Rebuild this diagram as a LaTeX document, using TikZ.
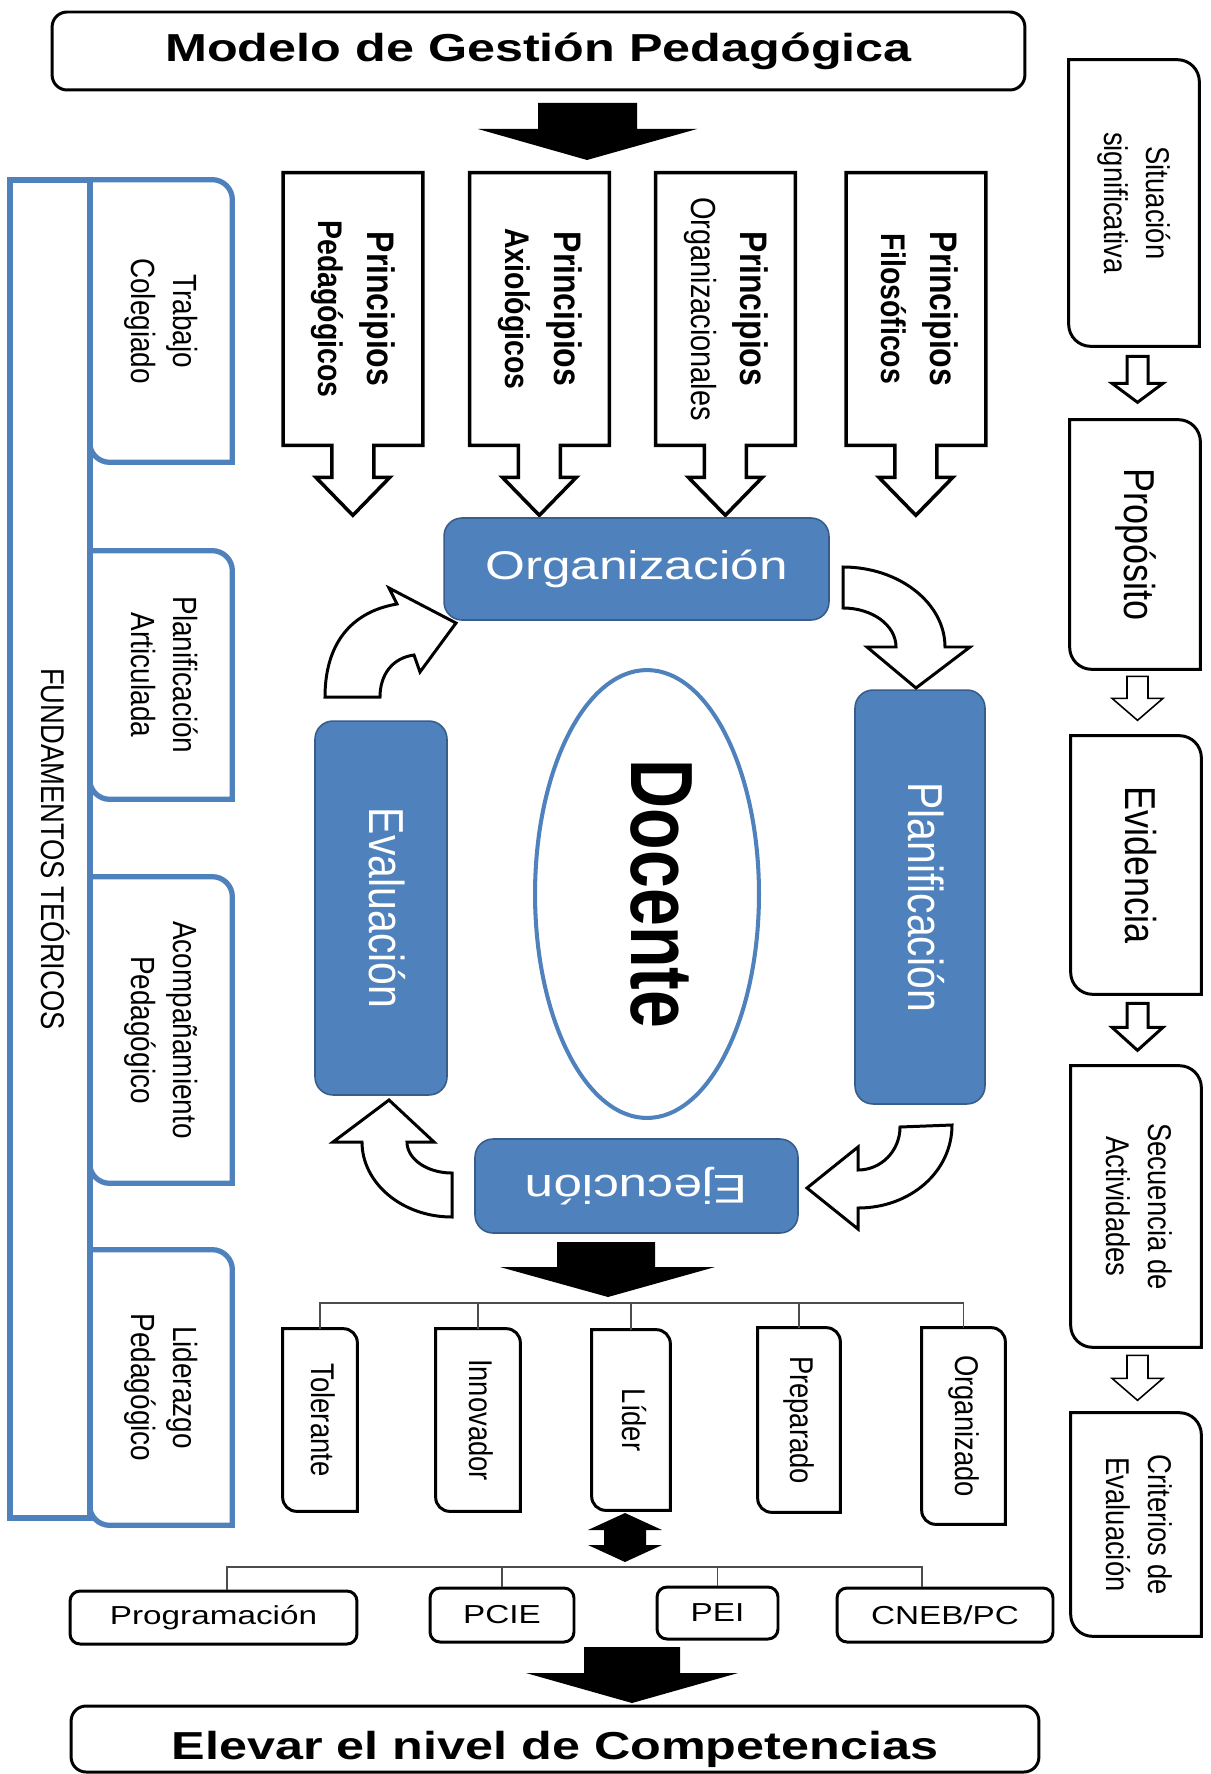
\documentclass[tikz,border=0pt]{standalone}
\usepackage{fontspec}
\setmainfont{Liberation Sans}
\usepackage{graphicx}
\usetikzlibrary{calc,shapes.geometric}

\definecolor{officeblue}{HTML}{4F81BD}
\definecolor{officedark}{HTML}{385D8A}

% text helpers: horizontal stretch, and text turned to read downwards
\newcommand{\htxt}[1]{\scalebox{1.28}[1]{#1}}
\newcommand{\vtxt}[2][1.2]{\scalebox{#1}[1]{\rotatebox{-90}{\begin{tabular}{@{}c@{}}#2\end{tabular}}}}
% frame with rounded top-right and bottom-left corners
\newcommand{\diagframe}[3][]{\draw[#1] (#2.north west) -- ($(#2.north east)+(-#3,0)$) arc[start angle=-90, end angle=0, radius=#3] -- (#2.south east) -- ($(#2.south west)+(#3,0)$) arc[start angle=90, end angle=180, radius=#3] -- cycle;}

\begin{document}
\begin{tikzpicture}[x=0.02cm, y=-0.02cm,
    roundnode/.style={draw, line width=1.7pt, rounded corners=0.3cm, inner sep=0pt},
    princnode/.style={minimum width=2.78cm, minimum height=5.44cm, inner sep=0pt, font=\fontsize{18.2}{23.3}\selectfont\bfseries},
    calloutline/.style={draw, line width=2pt},
    tabnode/.style={minimum width=2.84cm, inner sep=0pt, font=\fontsize{15.9}{19.9}\selectfont},
    tabline/.style={draw=officeblue, line width=3pt},
    stepnode/.style={minimum width=2.6cm, inner sep=0pt, font=\fontsize{15.6}{19.9}\selectfont},
    stepline/.style={draw, line width=1.7pt},
    bluenode/.style={draw=officedark, line width=0.9pt, fill=officeblue, rounded corners=0.36cm, text=white, inner sep=0pt},
    docnode/.style={ellipse, draw=officeblue, line width=2.3pt, fill=white, minimum width=4.48cm, minimum height=8.96cm, inner sep=0pt, font=\fontsize{38.7}{46}\selectfont\bfseries},
    traitnode/.style={minimum height=3.64cm, inner sep=0pt, font=\fontsize{15.6}{19.9}\selectfont},
    botnode/.style={draw, line width=1.7pt, rounded corners=0.2cm, inner sep=0pt, font=\fontsize{14.8}{18}\selectfont},
    bendarrow/.style={draw, fill=white, line width=1.7pt},
    hollowthick/.style={draw, fill=white, line width=1.7pt},
    hollowthin/.style={draw, fill=white, line width=0.9pt},
    treeline/.style={draw=black!70, line width=0.8pt}]

\useasboundingbox (0,0) rectangle (1210,1774);

% titles
\node[roundnode, minimum width=19.46cm, minimum height=1.56cm, font=\fontsize{22.2}{26}\selectfont\bfseries] (title) at (538.5,51) {\scalebox{1.29}[1]{Modelo de Gestión Pedagógica}};
\node[roundnode, minimum width=19.36cm, minimum height=1.32cm] (goal) at (555,1739) {};
\node[font=\fontsize{22.2}{26}\selectfont\bfseries] (goaltext) at (555,1749) {\scalebox{1.29}[1]{Elevar el nivel de Competencias}};

\fill (538,103) -- (637,103) -- (637,129) -- (697,129) -- (587,160) -- (478,129) -- (538,129) -- cycle;

% principios
\node[princnode] (pped) at (353,309) {\vtxt{Principios\\{\fontsize{16.2}{23.3}\selectfont Pedagógicos}}};
\node[princnode] (paxi) at (539.5,309) {\vtxt{Principios\\{\fontsize{16.2}{23.3}\selectfont Axiológicos}}};
\node[princnode] (porg) at (725.5,309) {\vtxt{Principios\\{\fontsize{16.5}{23.3}\selectfont\mdseries Organizacionales}}};
\node[princnode] (pfil) at (916,309) {\vtxt{Principios\\{\fontsize{16.2}{23.3}\selectfont Filosóficos}}};
\draw[calloutline] (pped.south west) -- (pped.north west) -- (pped.north east) -- (pped.south east) -- ++(-49,0) -- ++(0,32) -- ++(16,0) -- ++(-37,38) -- ++(-37,-38) -- ++(16,0) -- ++(0,-32) -- cycle;
\draw[calloutline] (paxi.south west) -- (paxi.north west) -- (paxi.north east) -- (paxi.south east) -- ++(-49,0) -- ++(0,32) -- ++(16,0) -- ++(-37,38) -- ++(-37,-38) -- ++(16,0) -- ++(0,-32) -- cycle;
\draw[calloutline] (porg.south west) -- (porg.north west) -- (porg.north east) -- (porg.south east) -- ++(-49,0) -- ++(0,32) -- ++(16,0) -- ++(-37,38) -- ++(-37,-38) -- ++(16,0) -- ++(0,-32) -- cycle;
\draw[calloutline] (pfil.south west) -- (pfil.north west) -- (pfil.north east) -- (pfil.south east) -- ++(-49,0) -- ++(0,32) -- ++(16,0) -- ++(-37,38) -- ++(-37,-38) -- ++(16,0) -- ++(0,-32) -- cycle;

% fundamentos
\node[draw=officeblue, line width=3pt, minimum width=1.6cm, minimum height=26.76cm, inner sep=0pt, font=\fontsize{15.6}{19.9}\selectfont] (fund) at (50,849) {\vtxt{FUNDAMENTOS TEÓRICOS}};
\node[tabnode, minimum height=5.64cm] (ttra) at (161,321) {\vtxt{Trabajo\\Colegiado}};
\node[tabnode, minimum height=4.96cm] (tpla) at (161,675) {\vtxt{Planificación\\Articulada}};
\node[tabnode, minimum height=6.12cm] (taco) at (161,1030) {\vtxt{Acompañamiento\\Pedagógico}};
\node[tabnode, minimum height=5.5cm] (tlid) at (161,1387.5) {\vtxt{Liderazgo\\Pedagógico}};
\diagframe[tabline]{ttra}{20}
\diagframe[tabline]{tpla}{20}
\diagframe[tabline]{taco}{20}
\diagframe[tabline]{tlid}{20}

% ciclo
\node[bluenode, minimum width=7.7cm, minimum height=2.04cm, font=\fontsize{22.8}{27}\selectfont] (orgz) at (636.5,569) {\htxt{Organización}};
\node[bluenode, minimum width=2.6cm, minimum height=8.28cm, font=\fontsize{23.3}{28}\selectfont] (plan) at (920,897) {\vtxt{Planificación}};
\node[bluenode, minimum width=6.46cm, minimum height=1.88cm, font=\fontsize{22.8}{27}\selectfont] (ejec) at (636.5,1186) {\htxt{\rotatebox{180}{Ejecución}}};
\node[bluenode, minimum width=2.64cm, minimum height=7.48cm, font=\fontsize{23.3}{28}\selectfont] (eval) at (381,908) {\vtxt{Evaluación}};
\node[docnode] (doc) at (647,894) {\hspace*{0.24cm}\vtxt[1.3]{Docente}};

\draw[bendarrow] (843,567) .. controls (899,567) and (945,603) .. (945,647) -- (970,647) -- (916,688) -- (867,647) -- (896,647) .. controls (896,625) and (872,608) .. (843,608) -- cycle;
\draw[bendarrow] (900,1127) -- (952,1125) .. controls (952,1172) and (910,1208) .. (858,1208) -- (858,1229) -- (807,1188) -- (858,1147) -- (858,1170) .. controls (881,1170) and (900,1151) .. (900,1127) -- cycle;
\draw[bendarrow] (452,1173) -- (452,1217) .. controls (402,1217) and (362,1183) .. (362,1142) -- (333,1142) -- (389,1100) -- (434,1142) -- (407,1142) .. controls (407,1159) and (427,1173) .. (452,1173) -- cycle;
\draw[bendarrow] (380,697) -- (325,697) .. controls (325,645) and (350,612) .. (397,604) -- (389,588) -- (456,623) -- (420,672) -- (414,655) .. controls (392,658) and (380,675) .. (380,697) -- cycle;

% perfil
\fill (557,1242) -- (655,1242) -- (655,1267) -- (715,1267) -- (608,1297) -- (500,1267) -- (557,1267) -- cycle;
\coordinate (busA) at (0,1303);
\node[traitnode, minimum width=1.48cm] (tol) at (320,1420) {\vtxt{Tolerante}};
\node[traitnode, minimum width=1.68cm] (inn) at (478,1420) {\vtxt{Innovador}};
\node[traitnode, minimum width=1.56cm, minimum height=3.6cm] (lid) at (631,1420) {\vtxt{Líder}};
\node[traitnode, minimum width=1.64cm, minimum height=3.68cm] (pre) at (799,1420) {\vtxt{Preparado}};
\node[traitnode, minimum width=1.66cm, minimum height=3.92cm] (orgd) at (963.5,1426) {\vtxt{Organizado}};
\diagframe[stepline]{tol}{14}
\diagframe[stepline]{inn}{14}
\diagframe[stepline]{lid}{14}
\diagframe[stepline]{pre}{14}
\diagframe[stepline]{orgd}{14}
\draw[treeline] (tol.north) -- (tol.north |- busA) -- (orgd.north |- busA) -- (orgd.north);
\draw[treeline] (inn.north) -- (inn.north |- busA);
\draw[treeline] (lid.north) -- (lid.north |- busA);
\draw[treeline] (pre.north) -- (pre.north |- busA);

\fill (625,1513) -- (662,1530) -- (646,1530) -- (646,1545) -- (662,1545) -- (625,1562) -- (588,1545) -- (604,1545) -- (604,1530) -- (588,1530) -- cycle;

% documentos
\coordinate (busB) at (0,1567);
\node[botnode, minimum width=5.74cm, minimum height=1.06cm] (prog) at (213.5,1617.5) {\htxt{Programación}};
\node[botnode, minimum width=2.88cm, minimum height=1.08cm] (pcie) at (502,1615) {\htxt{PCIE}};
\node[botnode, minimum width=2.42cm, minimum height=1.04cm] (pei) at (717.5,1613) {\htxt{PEI}};
\node[botnode, minimum width=4.32cm, minimum height=1.08cm] (cneb) at (945,1615) {\htxt{CNEB/PC}};
\draw[treeline] ([xshift=0.27cm]prog.north) -- ([xshift=0.27cm]prog.north |- busB) -- ([xshift=-0.46cm]cneb.north |- busB) -- ([xshift=-0.46cm]cneb.north);
\draw[treeline] (pcie.north) -- (pcie.north |- busB);
\draw[treeline] (pei.north) -- (pei.north |- busB);

\fill (584,1647) -- (680,1647) -- (680,1673) -- (738,1673) -- (632,1703) -- (526,1673) -- (584,1673) -- cycle;

% secuencia
\node[stepnode, minimum height=5.72cm] (sit) at (1134,203) {\vtxt{Situación\\significativa}};
\node[stepnode, minimum height=4.98cm, font=\fontsize{20.5}{25}\selectfont] (prop) at (1135,544.5) {\vtxt{Propósito}};
\node[stepnode, minimum height=5.16cm, font=\fontsize{20.5}{25}\selectfont] (evid) at (1136,865) {\vtxt{Evidencia}};
\node[stepnode, minimum height=5.62cm] (secu) at (1136,1206.5) {\vtxt{Secuencia de\\Actividades}};
\node[stepnode, minimum height=4.46cm] (crit) at (1136,1524.5) {\vtxt{Criterios de\\Evaluación}};
\diagframe[stepline]{sit}{22}
\diagframe[stepline]{prop}{22}
\diagframe[stepline]{evid}{22}
\diagframe[stepline]{secu}{22}
\diagframe[stepline]{crit}{22}
\draw[hollowthick] ($(sit.south)+(-7,10)$) -- ++(21,0) -- ++(0,27) -- ++(15,0) -- ++(-25.5,19) -- ++(-25.5,-19) -- ++(15,0) -- cycle;
\draw[hollowthin] ($(prop.south)+(-8,7)$) -- ++(21,0) -- ++(0,22) -- ++(15,0) -- ++(-25.5,22) -- ++(-25.5,-22) -- ++(15,0) -- cycle;
\draw[hollowthick] ($(evid.south)+(-9,9)$) -- ++(21,0) -- ++(0,24) -- ++(15,0) -- ++(-25.5,23) -- ++(-25.5,-23) -- ++(15,0) -- cycle;
\draw[hollowthin] ($(secu.south)+(-9,8)$) -- ++(21,0) -- ++(0,23) -- ++(15,0) -- ++(-25.5,22) -- ++(-25.5,-22) -- ++(15,0) -- cycle;

\end{tikzpicture}
\end{document}
